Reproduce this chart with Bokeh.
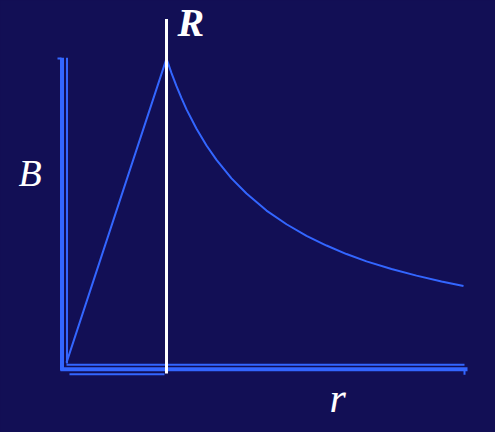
from bokeh.plotting import figure
from bokeh.models import Range1d, Label, ColumnDataSource
from bokeh.embed import file_html
from bokeh.resources import INLINE

# Field magnitude B vs radius r (r in units of R, B normalised to peak)
r_vals = [0.0, 1.0, 1.05, 1.1, 1.15, 1.2, 1.3, 1.4, 1.5, 1.65, 1.8, 2.0, 2.2, 2.4, 2.6,
          2.8, 3.0, 3.25, 3.5, 3.75, 3.97]
b_vals = [0.0, 1.0, 0.952, 0.909, 0.870, 0.833, 0.769, 0.714, 0.667, 0.606, 0.556, 0.50,
          0.455, 0.417, 0.385, 0.357, 0.333, 0.308, 0.286, 0.267, 0.252]
R_pos = 1.0
labels = {"B": "B", "R": "R", "r": "r"}

BG = "#120f55"
BLUE = "#3366ff"

p = figure(width=495, height=432, output_backend="svg", toolbar_location=None,
           x_range=Range1d(-0.66, 4.29), y_range=Range1d(-0.230, 1.191),
           min_border=0, min_border_left=0, min_border_right=0,
           min_border_top=0, min_border_bottom=0)
p.axis.visible = False
p.grid.visible = False
p.outline_line_color = None
p.background_fill_color = BG
p.border_fill_color = BG

# double-line axes (decorative)
p.segment(x0=[-0.045], y0=[-0.026], x1=[-0.045], y1=[1.003], line_color=BLUE, line_width=4)
p.segment(x0=[0.005], y0=[-0.003], x1=[0.005], y1=[1.003], line_color=BLUE, line_width=2)
p.segment(x0=[-0.09], y0=[1.0], x1=[-0.05], y1=[1.0], line_color=BLUE, line_width=2)
p.segment(x0=[-0.06], y0=[-0.022], x1=[4.01], y1=[-0.022], line_color=BLUE, line_width=4)
p.segment(x0=[0.0], y0=[-0.007], x1=[3.98], y1=[-0.007], line_color=BLUE, line_width=2)
p.segment(x0=[0.03], y0=[-0.038], x1=[0.98], y1=[-0.038], line_color=BLUE, line_width=2)
p.segment(x0=[3.98], y0=[-0.022], x1=[3.98], y1=[-0.04], line_color=BLUE, line_width=2)

# curve
src = ColumnDataSource(dict(r=r_vals, b=b_vals))
p.line("r", "b", source=src, line_color=BLUE, line_width=2)

# R marker line
p.segment(x0=[R_pos], y0=[-0.036], x1=[R_pos], y1=[1.13], line_color="white", line_width=3)

p.add_layout(Label(x=-0.48, y=0.622, text=labels["B"], text_color="white",
                   text_font="Liberation Serif", text_font_style="italic",
                   text_font_size="38px", text_baseline="alphabetic"))
p.add_layout(Label(x=1.11, y=1.119, text=labels["R"], text_color="white",
                   text_font="Liberation Serif", text_font_style="bold italic",
                   text_font_size="40px", text_baseline="alphabetic"))
p.add_layout(Label(x=2.63, y=-0.118, text=labels["r"], text_color="white",
                   text_font="Liberation Serif", text_font_style="italic",
                   text_font_size="42px", text_baseline="alphabetic"))

html = file_html(p, INLINE)
html = html.replace("<head>", "<head><style>html,body{background:%s;}</style>" % BG, 1)
open("out.html", "w").write(html)
